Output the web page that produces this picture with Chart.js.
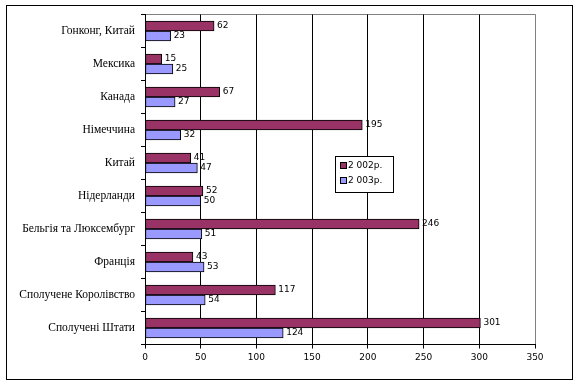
<!DOCTYPE html>
<html>
<head>
<meta charset="utf-8">
<script src="https://cdn.jsdelivr.net/npm/chart.js@4"></script>
<style>
  html, body { margin: 0; padding: 0; background: #fff; }
  #wrap { width: 578px; height: 383px; position: relative; }
</style>
</head>
<body>
<div id="wrap"><canvas id="chart" width="578" height="383"></canvas></div>
<script>
'use strict';

// ---------------------------------------------------------------------------
// Data
// ---------------------------------------------------------------------------

const countries = [
  'Гонконг, Китай', 'Мексика', 'Канада', 'Німеччина', 'Китай',
  'Нідерланди', 'Бельгія та Люксембург', 'Франція',
  'Сполучене Королівство', 'Сполучені Штати',
];
const values2002 = [62, 15, 67, 195, 41, 52, 246, 43, 117, 301];
const values2003 = [23, 25, 27, 32, 47, 50, 51, 53, 54, 124];
const seriesNames = ['2 002р.', '2 003р.'];
const xTicks = [0, 50, 100, 150, 200, 250, 300, 350];

const MAROON = '#993366';
const LILAC  = '#9999ff';

// ---------------------------------------------------------------------------
// Plugins: frame, value labels, legend box
// ---------------------------------------------------------------------------

const framePlugin = {
  id: 'frame',
  beforeDraw(chart) {
    const { ctx, chartArea: a } = chart;
    ctx.save();
    ctx.fillStyle = '#fff';
    ctx.fillRect(0, 0, chart.width, chart.height);
    ctx.strokeStyle = '#000';
    ctx.lineWidth = 1;
    ctx.strokeRect(6.5, 5.5, 566, 374);
    // grey plot border, top + right
    ctx.strokeStyle = '#808080';
    ctx.beginPath();
    ctx.moveTo(a.left, 14.5);
    ctx.lineTo(a.right + 0.5, 14.5);
    ctx.lineTo(a.right + 0.5, a.bottom);
    ctx.stroke();
    ctx.restore();
  },
};

const valueLabels = {
  id: 'valueLabels',
  afterDatasetsDraw(chart) {
    const { ctx } = chart;
    ctx.save();
    ctx.font = '9px "DejaVu Sans", Verdana, sans-serif';
    ctx.fillStyle = '#000';
    ctx.textAlign = 'left';
    ctx.textBaseline = 'middle';
    chart.data.datasets.forEach((ds, i) => {
      chart.getDatasetMeta(i).data.forEach((bar, j) => {
        ctx.fillText(String(ds.data[j]), bar.x + 3, bar.y);
      });
    });
    ctx.restore();
  },
};

const legendBox = {
  id: 'legendBox',
  afterDraw(chart) {
    const { ctx } = chart;
    const x = 335, y = 156, w = 58, h = 36;
    ctx.save();
    ctx.fillStyle = '#fff';
    ctx.fillRect(x, y, w, h);
    ctx.strokeStyle = '#000';
    ctx.lineWidth = 1;
    ctx.strokeRect(x + 0.5, y + 0.5, w, h);
    ctx.font = '9px "DejaVu Sans", Verdana, sans-serif';
    ctx.textBaseline = 'middle';
    chart.data.datasets.forEach((ds, i) => {
      const cy = y + 10 + i * 15;
      ctx.fillStyle = ds.backgroundColor;
      ctx.fillRect(x + 5.5, cy - 3.5, 6, 6);
      ctx.strokeRect(x + 5.5, cy - 3.5, 6, 6);
      ctx.fillStyle = '#000';
      ctx.fillText(ds.label, x + 13, cy);
    });
    ctx.restore();
  },
};

// ---------------------------------------------------------------------------
// Chart
// ---------------------------------------------------------------------------

new Chart(document.getElementById('chart').getContext('2d'), {
  type: 'bar',
  data: {
    labels: countries,
    datasets: [
      {
        label: seriesNames[0],
        data: values2002,
        backgroundColor: MAROON,
        borderColor: '#000',
        borderWidth: 1,
        borderSkipped: false,
        barThickness: 10,
      },
      {
        label: seriesNames[1],
        data: values2003,
        backgroundColor: LILAC,
        borderColor: '#000',
        borderWidth: 1,
        borderSkipped: false,
        barThickness: 10,
      },
    ],
  },
  options: {
    indexAxis: 'y',
    responsive: false,
    animation: false,
    layout: { padding: { left: 0, top: 14.5, right: 43, bottom: 0 } },
    plugins: {
      legend:  { display: false },
      tooltip: { enabled: false },
    },
    scales: {
      x: {
        min: 0,
        max: 350,
        afterBuildTicks: scale => { scale.ticks = xTicks.map(v => ({ value: v })); },
        afterFit: scale => { scale.height = 38.5; },
        border: { color: '#000', width: 1 },
        grid: {
          color: c => (c.tick && c.tick.value === 350 ? '#808080' : '#000'),
          tickColor: '#000',
          tickLength: 4,
          lineWidth: 1,
        },
        ticks: {
          color: '#000',
          padding: 4,
          font: { family: '"DejaVu Sans", Verdana, sans-serif', size: 9 },
        },
      },
      y: {
        afterFit: scale => { scale.width = 145; },
        border: { color: '#000', width: 1 },
        grid: {
          offset: true,
          drawOnChartArea: false,
          tickColor: '#000',
          tickLength: 4,
        },
        ticks: {
          color: '#000',
          padding: 6,
          font: { family: '"Liberation Serif", "Times New Roman", serif', size: 11.5 },
        },
      },
    },
  },
  plugins: [framePlugin, valueLabels, legendBox],
});
</script>
</body>
</html>
